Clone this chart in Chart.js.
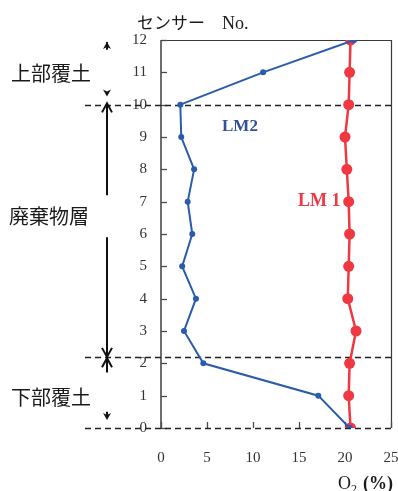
<!DOCTYPE html>
<html>
<head>
<meta charset="utf-8">
<script src="https://cdn.jsdelivr.net/npm/chart.js@4/dist/chart.umd.min.js"></script>
<style>
  html, body { margin: 0; padding: 0; background: #fff; }
  #wrap { width: 398px; height: 491px; }
</style>
</head>
<body>
<div id="wrap"><canvas id="c" width="398" height="491"></canvas></div>
<script>
// Sensor numbers (depth positions) and O2 concentrations (%)
const sensorNo = [0, 1, 2, 3, 4, 5, 6, 7, 8, 9, 10, 11, 12];
const lm1O2 = [20.6, 20.4, 20.5, 21.2, 20.3, 20.4, 20.5, 20.4, 20.2, 20.0, 20.4, 20.5, 20.6];
const lm2O2 = [20.5, 17.1, 4.6, 2.5, 3.8, 2.3, 3.4, 2.9, 3.6, 2.2, 2.1, 11.1, 21.0];
const xTicks = [0, 5, 10, 15, 20, 25];
const yTicks = [0, 1, 2, 3, 4, 5, 6, 7, 8, 9, 10, 11, 12];
// Layer boundaries (sensor-number scale)
const boundaries = [10, 2.2, 0];
const layerNames = ['上部覆土', '廃棄物層', '下部覆土'];

const toPoints = (vals) => vals.map((v, i) => ({ x: v, y: sensorNo[i] }));

const BLUE = 'rgb(42,92,172)';
const RED = 'rgb(240,56,66)';

const decor = {
  id: 'decor',
  beforeDatasetsDraw(chart) {
    const { ctx, chartArea: a, scales: { x, y } } = chart;
    ctx.save();
    // frame: top and right
    ctx.strokeStyle = '#3a3a3a';
    ctx.lineWidth = 1.2;
    ctx.beginPath();
    ctx.moveTo(a.left, a.top + 0.5);
    ctx.lineTo(a.right + 0.5, a.top + 0.5);
    ctx.lineTo(a.right + 0.5, a.bottom);
    ctx.stroke();
    // left axis line
    ctx.strokeStyle = '#6e6e6e';
    ctx.lineWidth = 2;
    ctx.beginPath();
    ctx.moveTo(a.left, a.top);
    ctx.lineTo(a.left, a.bottom);
    ctx.stroke();
    // inward tick marks
    ctx.lineWidth = 1.3;
    ctx.strokeStyle = '#4a4a4a';
    yTicks.forEach(v => {
      const py = Math.round(y.getPixelForValue(v)) + 0.5;
      ctx.beginPath();
      ctx.moveTo(a.left, py);
      ctx.lineTo(a.left + 6, py);
      ctx.stroke();
    });
    xTicks.forEach(v => {
      const px = Math.round(x.getPixelForValue(v)) + 0.5;
      ctx.beginPath();
      ctx.moveTo(px, a.bottom);
      ctx.lineTo(px, a.bottom - 6);
      ctx.stroke();
    });
    // dashed layer boundaries
    ctx.strokeStyle = '#222';
    ctx.lineWidth = 1.5;
    ctx.setLineDash([6, 4]);
    boundaries.forEach(v => {
      const py = Math.round(y.getPixelForValue(v)) + 0.5;
      ctx.beginPath();
      ctx.moveTo(85, py);
      ctx.lineTo(a.right + 1, py);
      ctx.stroke();
    });
    ctx.restore();
  },
  afterDraw(chart) {
    const { ctx, chartArea: a, scales: { x, y } } = chart;
    const ax = 107;
    ctx.save();
    ctx.strokeStyle = '#111';
    ctx.fillStyle = '#111';
    ctx.lineWidth = 2;

    const filledHead = (tipY, dir) => {
      // dir = -1 pointing up, +1 pointing down
      ctx.beginPath();
      ctx.moveTo(ax, tipY);
      ctx.lineTo(ax - 4, tipY - dir * 7);
      ctx.lineTo(ax, tipY - dir * 5);
      ctx.lineTo(ax + 4, tipY - dir * 7);
      ctx.closePath();
      ctx.fill();
    };
    const openHead = (tipY, dir) => {
      ctx.beginPath();
      ctx.moveTo(ax - 5, tipY - dir * 9);
      ctx.lineTo(ax, tipY);
      ctx.lineTo(ax + 5, tipY - dir * 9);
      ctx.stroke();
    };
    const seg = (v1, v2) => {
      ctx.beginPath();
      ctx.moveTo(ax, y.getPixelForValue(v1));
      ctx.lineTo(ax, y.getPixelForValue(v2));
      ctx.stroke();
    };

    // upper cover soil
    filledHead(y.getPixelForValue(11.94), -1);
    seg(11.94, 11.7);
    filledHead(y.getPixelForValue(10.25), 1);
    // waste layer
    openHead(y.getPixelForValue(10.04), -1);
    seg(10.04, 7.2);
    seg(5.9, 2.2);
    openHead(y.getPixelForValue(2.2), 1);
    // lower cover soil
    openHead(y.getPixelForValue(2.16), -1);
    seg(2.16, 1.72);
    filledHead(y.getPixelForValue(0.25), 1);
    seg(0.5, 0.35);

    // layer names
    ctx.fillStyle = '#1a1a1a';
    ctx.font = '20px "Noto Sans CJK JP"';
    ctx.textAlign = 'left';
    ctx.textBaseline = 'middle';
    ctx.fillText(layerNames[0], 11, y.getPixelForValue(10.98));
    ctx.fillText(layerNames[1], 9, y.getPixelForValue(6.55));
    ctx.fillText(layerNames[2], 11, y.getPixelForValue(0.96));

    // axis titles
    ctx.font = '17px "Noto Sans CJK JP"';
    ctx.textBaseline = 'alphabetic';
    ctx.fillText('センサー', 137, 29);
    ctx.font = '18px "Liberation Serif"';
    ctx.fillText('No.', 222, 29);

    ctx.font = '18px "Liberation Serif"';
    ctx.fillText('O', 338, 489);
    const ow = ctx.measureText('O').width;
    ctx.font = '12px "Liberation Serif"';
    ctx.fillText('2', 338 + ow, 493);
    ctx.font = 'bold 18px "Liberation Serif"';
    ctx.fillText('(%)', 338 + ow + 12, 489);

    // series labels
    ctx.font = 'bold 17px "Liberation Serif"';
    ctx.fillStyle = 'rgb(52,78,160)';
    ctx.textBaseline = 'middle';
    ctx.fillText('LM2', 222, 127);
    ctx.font = 'bold 18px "Liberation Serif"';
    ctx.fillStyle = RED;
    ctx.fillText('LM 1', 298, 201);
    ctx.restore();
  }
};

new Chart(document.getElementById('c'), {
  type: 'scatter',
  data: {
    datasets: [
      {
        label: 'LM2',
        data: toPoints(lm2O2),
        showLine: true,
        borderColor: BLUE,
        backgroundColor: BLUE,
        borderWidth: 2,
        pointRadius: 3,
        pointBorderWidth: 0,
        pointHoverRadius: 3
      },
      {
        label: 'LM1',
        data: toPoints(lm1O2),
        showLine: true,
        borderColor: RED,
        backgroundColor: RED,
        borderWidth: 2.5,
        pointRadius: 5.5,
        pointBorderWidth: 0,
        pointHoverRadius: 5.5
      }
    ]
  },
  options: {
    responsive: false,
    animation: false,
    devicePixelRatio: 1,
    layout: { autoPadding: false, padding: { top: 40, right: 7, bottom: 0, left: 0 } },
    plugins: { legend: { display: false }, tooltip: { enabled: false } },
    scales: {
      x: {
        type: 'linear',
        min: 0, max: 25,
        afterFit: s => { s.height = 63; s.paddingLeft = 0; s.paddingRight = 0; },
        afterBuildTicks: s => { s.ticks = xTicks.map(v => ({ value: v })); },
        grid: { display: false, drawTicks: false },
        border: { display: false },
        ticks: { padding: 21, maxRotation: 0, color: '#333', font: { family: 'Liberation Serif', size: 15 } }
      },
      y: {
        type: 'linear',
        min: 0, max: 12,
        afterFit: s => { s.width = 161; s.paddingTop = 0; s.paddingBottom = 0; },
        afterBuildTicks: s => { s.ticks = yTicks.map(v => ({ value: v })); },
        grid: { display: false, drawTicks: false },
        border: { display: false },
        ticks: { padding: 14, color: '#333', font: { family: 'Liberation Serif', size: 15 } }
      }
    }
  },
  plugins: [decor]
});
</script>
</body>
</html>
